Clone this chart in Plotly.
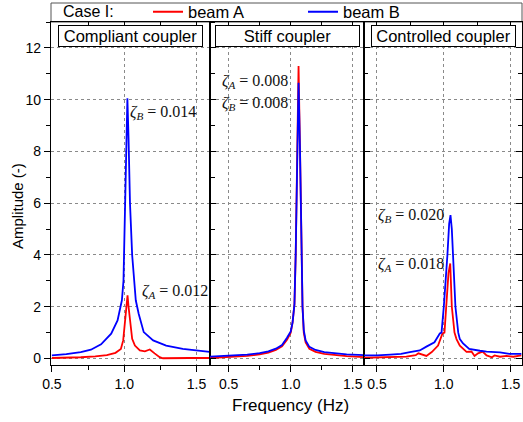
import plotly.graph_objects as go

# ---------------- data ----------------
panel_titles = ["Compliant coupler", "Stiff coupler", "Controlled coupler"]
series_names = ["beam A", "beam B"]
legend_title = "Case I:"

# Compliant coupler
f1_A = [0.50, 0.60, 0.70, 0.80, 0.88, 0.94, 0.977, 0.993, 1.005, 1.015, 1.023, 1.030, 1.039, 1.047, 1.055, 1.074,
        1.108, 1.143, 1.177, 1.21, 1.245, 1.268, 1.35, 1.45, 1.59]
a1_A = [0.02, 0.03, 0.05, 0.08, 0.13, 0.22, 0.37, 0.70, 1.47, 2.0, 2.44, 2.0, 1.6, 1.15, 0.76, 0.50,
        0.31, 0.28, 0.35, 0.20, 0.05, 0.01, 0.02, 0.02, 0.02]
f1_B = [0.50, 0.60, 0.70, 0.77, 0.84, 0.91, 0.954, 0.984, 0.995, 1.005, 1.015, 1.022, 1.030, 1.040, 1.055, 1.068,
        1.080, 1.100, 1.135, 1.20, 1.29, 1.405, 1.50, 1.59]
a1_B = [0.12, 0.17, 0.25, 0.34, 0.55, 0.96, 1.47, 2.25, 3.0, 5.5, 9.0, 10.05, 8.5, 6.0, 4.0, 3.0,
        2.25, 1.73, 1.02, 0.70, 0.50, 0.37, 0.30, 0.26]

# Stiff coupler
f2 = [0.35, 0.45, 0.55, 0.65, 0.75, 0.82, 0.88, 0.93, 0.97, 1.00, 1.015, 1.03, 1.04, 1.052, 1.063, 1.075,
      1.086, 1.095, 1.105, 1.12, 1.15, 1.20, 1.27, 1.35, 1.45, 1.60]
a2_A = [0.02, 0.04, 0.06, 0.10, 0.16, 0.23, 0.33, 0.47, 0.72, 1.00, 1.40, 2.1, 4.0, 8.2, 11.3, 8.0,
        4.0, 2.0, 1.0, 0.62, 0.38, 0.26, 0.18, 0.13, 0.09, 0.05]
a2_B = [0.07, 0.09, 0.11, 0.15, 0.21, 0.28, 0.38, 0.52, 0.80, 1.05, 1.40, 2.1, 4.0, 8.0, 10.65, 8.0,
        4.0, 2.0, 1.1, 0.70, 0.45, 0.33, 0.25, 0.20, 0.16, 0.13]

# Controlled coupler
f3_A = [0.40, 0.50, 0.62, 0.72, 0.79, 0.81, 0.87, 0.91, 0.957, 0.99, 1.005, 1.017, 1.035, 1.048, 1.06, 1.08,
        1.095, 1.12, 1.17, 1.207, 1.23, 1.256, 1.29, 1.32, 1.36, 1.38, 1.42, 1.47, 1.52, 1.58]
a3_A = [0.03, 0.05, 0.05, 0.07, 0.13, 0.20, 0.10, 0.25, 0.50, 0.97, 1.0, 2.0, 3.3, 3.67, 2.0, 1.0,
        0.75, 0.50, 0.26, 0.27, 0.10, 0.20, 0.27, 0.12, 0.05, 0.12, 0.07, 0.10, 0.07, 0.12]
f3_B = [0.40, 0.50, 0.60, 0.68, 0.746, 0.82, 0.87, 0.93, 0.97, 0.983, 1.00, 1.015, 1.027, 1.04, 1.05, 1.06,
        1.069, 1.087, 1.108, 1.12, 1.144, 1.19, 1.27, 1.32, 1.42, 1.49, 1.58]
a3_B = [0.12, 0.12, 0.15, 0.18, 0.25, 0.31, 0.46, 0.63, 0.97, 1.0, 2.0, 3.0, 4.0, 5.2, 5.54, 5.0,
        4.0, 2.0, 1.0, 0.75, 0.58, 0.37, 0.30, 0.27, 0.24, 0.18, 0.18]

damping_labels = [
    # (panel, text, x, y)
    (1, "<i>ζ</i><sub><i>B</i></sub> = 0.014", 1.026, 9.5),
    (1, "<i>ζ</i><sub><i>A</i></sub> = 0.012", 1.107, 2.6),
    (2, "<i>ζ</i><sub><i>A</i></sub> = 0.008", 0.43, 10.7),
    (2, "<i>ζ</i><sub><i>B</i></sub> = 0.008", 0.43, 9.85),
    (3, "<i>ζ</i><sub><i>B</i></sub> = 0.020", 0.495, 5.52),
    (3, "<i>ζ</i><sub><i>A</i></sub> = 0.018", 0.495, 3.65),
]

x_ranges = [[0.494, 1.593], [0.35, 1.59], [0.403, 1.585]]
y_range = [-0.25, 13.0]
x_ticks = [0.5, 1.0, 1.5]
y_ticks = [0, 2, 4, 6, 8, 10, 12]

RED = "#ff0000"
BLUE = "#0000ff"
SANS = "Liberation Sans, Arial, sans-serif"
SERIF = "Liberation Serif, Times New Roman, serif"

# ---------------- figure ----------------
fig = go.Figure()
W, H = 523, 422
ml, mr, mt, mb = 51, 1, 22, 57
pw = W - ml - mr
ph = H - mt - mb
d1 = (210 - ml) / pw
d2 = (364 - ml) / pw
domains = [[0, d1], [d1, d2], [d2, 1]]

panels = [
    (f1_A, a1_A, f1_B, a1_B),
    (f2, a2_A, f2, a2_B),
    (f3_A, a3_A, f3_B, a3_B),
]
for i, (fa, aa, fb, ab) in enumerate(panels):
    xs = "x" if i == 0 else f"x{i+1}"
    ys = "y" if i == 0 else f"y{i+1}"
    fig.add_trace(go.Scatter(x=fa, y=aa, mode="lines", name=series_names[0],
                             line=dict(color=RED, width=1.8), xaxis=xs, yaxis=ys,
                             showlegend=(i == 0), legendrank=1))
    fig.add_trace(go.Scatter(x=fb, y=ab, mode="lines", name=series_names[1],
                             line=dict(color=BLUE, width=1.8), xaxis=xs, yaxis=ys,
                             showlegend=(i == 0), legendrank=2))
    # empty trace to attach the top tick axis
    fig.add_trace(go.Scatter(x=[None], y=[None], mode="lines", xaxis=f"x{i+4}", yaxis=ys,
                             showlegend=False, hoverinfo="skip"))

grid = dict(showgrid=True, gridcolor="#8a8a8a", griddash="dot", gridwidth=1)
for i in range(3):
    xkey = "xaxis" if i == 0 else f"xaxis{i+1}"
    ykey = "yaxis" if i == 0 else f"yaxis{i+1}"
    yname = "y" if i == 0 else f"y{i+1}"
    xname = "x" if i == 0 else f"x{i+1}"
    fig.update_layout({
        xkey: dict(domain=domains[i], range=x_ranges[i], anchor=yname,
                   tickvals=x_ticks, tickformat=".1f", ticks="outside", ticklen=6,
                   tickwidth=1, tickcolor="black",
                   minor=dict(tick0=0.5, dtick=0.25, ticks="outside", ticklen=4, tickcolor="black", showgrid=False),
                   showline=True, linecolor="black", linewidth=1.3, mirror=True,
                   zeroline=False, tickfont=dict(size=14, color="black", family=SANS), **grid),
        f"xaxis{i+4}": dict(domain=domains[i], range=x_ranges[i], anchor=yname, overlaying=xname,
                            side="top", tickvals=x_ticks, ticks="inside", ticklen=5, tickwidth=1,
                            tickcolor="black", showticklabels=False, showgrid=False, showline=False,
                            zeroline=False,
                            minor=dict(tick0=0.5, dtick=0.25, ticks="inside", ticklen=3, tickcolor="black")),
        ykey: dict(domain=[0, 1], range=y_range, anchor=xname,
                   tickvals=y_ticks, ticks="outside" if i == 0 else "inside", ticklen=6,
                   tickwidth=1, tickcolor="black",
                   minor=dict(tick0=0, dtick=1, ticks="outside" if i == 0 else "inside", ticklen=4,
                              tickcolor="black", showgrid=False),
                   showticklabels=(i == 0),
                   showline=True, linecolor="black", linewidth=1.3,
                   mirror="ticks" if i in (0, 2) else True,
                   zeroline=False, tickfont=dict(size=14, color="black", family=SANS), **grid),
    })

annotations = []
for i, t in enumerate(panel_titles):
    xref = "x domain" if i == 0 else f"x{i+1} domain"
    yref = "y domain" if i == 0 else f"y{i+1} domain"
    annotations.append(dict(text=t, x=0.5, y=1 - 14 / ph, xref=xref, yref=yref,
                            xanchor="center", yanchor="middle", showarrow=False,
                            width=141, height=18, borderpad=1,
                            bordercolor="black", borderwidth=1, bgcolor="white",
                            font=dict(size=16.5, family=SANS, color="black")))
for p, txt, x, y in damping_labels:
    xref = "x" if p == 1 else f"x{p}"
    yref = "y" if p == 1 else f"y{p}"
    annotations.append(dict(text=txt, x=x, y=y, xref=xref, yref=yref,
                            xanchor="left", yanchor="middle", showarrow=False,
                            font=dict(size=16, family=SERIF, color="#111111")))
annotations.append(dict(text="Frequency (Hz)", x=(290 - ml) / pw, y=-(405 - (H - mb)) / ph,
                        xref="paper", yref="paper", xanchor="center", yanchor="middle",
                        showarrow=False, font=dict(size=17, family=SANS, color="black")))
annotations.append(dict(text="Amplitude (-)", x=(17 - ml) / pw, y=((H - mb) - 206) / ph,
                        xref="paper", yref="paper", xanchor="center", yanchor="middle",
                        textangle=-90, showarrow=False, font=dict(size=15, family=SANS, color="black")))
annotations.append(dict(text=legend_title, x=(61 - ml) / pw, y=1 + 10 / ph,
                        xref="paper", yref="paper", xanchor="left", yanchor="middle",
                        showarrow=False, font=dict(size=16, family=SANS, color="black")))

shapes = [dict(type="rect", xref="paper", yref="paper", x0=0, x1=1, y0=1, y1=1 + 19 / ph,
               line=dict(color="#555555", width=1), layer="below")]

fig.update_layout(
    width=W, height=H,
    margin=dict(l=ml, r=mr, t=mt, b=mb, pad=0, autoexpand=False),
    paper_bgcolor="white", plot_bgcolor="white",
    annotations=annotations, shapes=shapes,
    showlegend=True,
    legend=dict(orientation="h", x=(148 - ml) / pw, xanchor="left", y=1 + 10 / ph, yanchor="middle",
                font=dict(size=16.5, family=SANS, color="black"),
                bgcolor="rgba(0,0,0,0)", borderwidth=0,
                entrywidthmode="pixels", entrywidth=110, itemwidth=30, tracegroupgap=0),
)

fig.write_html("out.html", config={"displayModeBar": False},
               post_script="document.body.style.margin='0';document.body.style.overflow='hidden';")
